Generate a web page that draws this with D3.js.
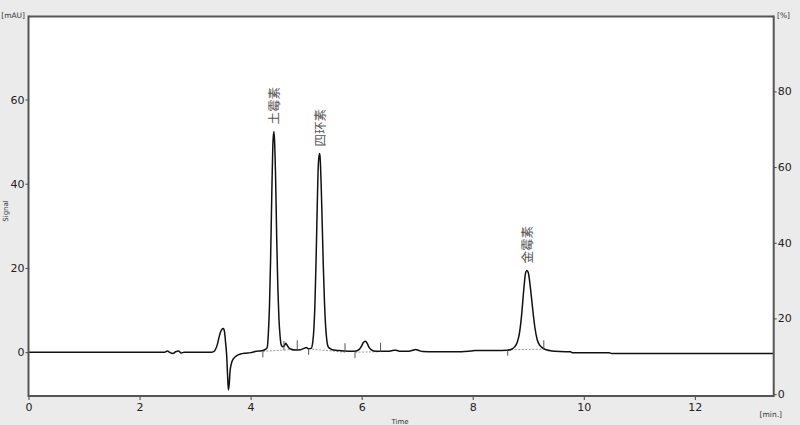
<!DOCTYPE html>
<html>
<head>
<meta charset="utf-8">
<script src="https://cdn.jsdelivr.net/npm/d3@7/dist/d3.min.js"></script>
<style>
  html, body { margin: 0; padding: 0; background: #ebebeb; }
  svg { display: block; }
</style>
</head>
<body>
<script>
// ---------------- data ----------------
const traceTime = [
  0.00, 2.45, 2.50, 2.55, 2.60, 2.65, 2.70, 2.75, 2.80,
  3.30, 3.35, 3.40, 3.44, 3.48, 3.51, 3.53, 3.55, 3.57, 3.585, 3.60, 3.615, 3.63, 3.66, 3.70, 3.75, 3.82, 3.90, 4.00, 4.10, 4.20,
  4.28, 4.30, 4.32, 4.34, 4.36, 4.38, 4.40, 4.418, 4.43, 4.45, 4.47, 4.49, 4.51, 4.53, 4.55, 4.58, 4.61, 4.63, 4.655, 4.69, 4.73,
  4.80, 4.90, 4.96, 5.00, 5.04, 5.09, 5.12, 5.14, 5.16, 5.18, 5.20, 5.22, 5.24, 5.25, 5.27, 5.29, 5.31, 5.33, 5.35, 5.37, 5.40, 5.44,
  5.50, 5.60, 5.70, 5.80, 5.90, 5.95, 6.00, 6.03, 6.065, 6.10, 6.13, 6.17, 6.22, 6.30,
  6.50, 6.58, 6.62, 6.68, 6.85, 6.92, 6.97, 7.03, 7.10, 7.30, 7.80, 7.92, 7.98, 8.05, 8.40, 8.62,
  8.70, 8.75, 8.80, 8.84, 8.88, 8.92, 8.95, 8.975, 9.00, 9.03, 9.06, 9.09, 9.12, 9.16, 9.21, 9.27, 9.34, 9.42, 9.57,
  9.76, 9.80, 10.46, 10.50, 13.42
];
const traceSignal = [
  0, 0, 0.3, -0.1, -0.3, 0.1, 0.3, -0.2, 0,
  0, 0.3, 1.8, 4.0, 5.4, 5.6, 4.8, 2.2, -1.0, -5.5, -9.0, -7.5, -4.5, -2.4, -1.4, -0.8, -0.45, -0.25, -0.1, 0.2, 0.35,
  0.8, 1.2, 4.6, 11.1, 22.2, 36.6, 49, 52.4, 50.5, 41.4, 27, 15.5, 8, 3.9, 1.8, 1.3, 1.6, 2.1, 1.7, 1.0, 0.7,
  0.5, 0.6, 0.9, 1.1, 0.8, 0.9, 2.5, 5.7, 12.2, 22.5, 34.8, 44.7, 47.2, 46.5, 40, 30.2, 20.1, 11.9, 6.3, 3.1, 1.2, 0.8,
  0.5, 0.4, 0.3, 0.25, 0.3, 0.6, 1.5, 2.3, 2.6, 2.1, 1.2, 0.6, 0.3, 0.25,
  0.25, 0.45, 0.45, 0.25, 0.25, 0.45, 0.65, 0.4, 0.15, 0.1, 0.1, 0.2, 0.3, 0.4, 0.4, 0.45,
  0.7, 1.2, 2.3, 4.4, 8.8, 15.0, 18.7, 19.4, 18.9, 16.3, 12.7, 9.0, 5.8, 3.0, 1.6, 0.9, 0.5, 0.3, 0.15,
  0.1, -0.15, -0.15, -0.3, -0.3
];

// integration baselines (dotted) : start/end times and levels
const baseStartTime  = [4.22, 4.60, 5.045, 5.88, 8.63];
const baseStartLevel = [0.2, 0.5, 0.8, 0.0, 0.6];
const baseEndTime    = [4.60, 4.84, 5.70, 6.34, 9.28];
const baseEndLevel   = [0.5, 0.7, 0.0, 0.1, 0.7];

// integration markers
const markerTime  = [4.22, 4.60, 4.84, 5.045, 5.70, 5.88, 6.34, 8.63, 9.28];
const markerLevel = [0.2, 0.5, 0.7, 0.8, 0.0, 0.0, 0.1, 0.6, 0.7];
const markerKind  = ["start", "end", "end", "start", "end", "start", "end", "start", "end"];

// peak labels
const peakNames  = ["土霉素", "四环素", "金霉素"];
const peakTimes  = [4.418, 5.241, 8.975];
const peakValues = [52.4, 47.2, 19.4];

// ticks
const xTicks = [0, 2, 4, 6, 8, 10, 12];
const yLeftTicks = [0, 20, 40, 60];
const yRightTicks = [0, 20, 40, 60, 80];

// ---------------- layout ----------------
const W = 800, H = 425;
const L = 28.5, R = 773.7, T = 16.5, B = 396;

const x = d3.scaleLinear().domain([0, 13.42]).range([L, R]);
const y = d3.scaleLinear().domain([-10.4, 79.7]).range([B, T]);
const yR = d3.scaleLinear().domain([-0.5, 99.8]).range([B, T]);

const svg = d3.select("body").append("svg")
  .attr("width", W).attr("height", H);

svg.append("rect").attr("x", 0).attr("y", 0).attr("width", W).attr("height", H).attr("fill", "#ebebeb");
svg.append("rect").attr("x", L).attr("y", T).attr("width", R - L).attr("height", B - T).attr("fill", "#ffffff");

svg.append("clipPath").attr("id", "clip")
  .append("rect").attr("x", L).attr("y", T).attr("width", R - L).attr("height", B - T);

const plot = svg.append("g").attr("clip-path", "url(#clip)");

// dotted baselines
const segs = baseStartTime.map((t, i) => ({t0: t, v0: baseStartLevel[i], t1: baseEndTime[i], v1: baseEndLevel[i]}));
plot.selectAll("line.base").data(segs).enter().append("line")
  .attr("class", "base")
  .attr("x1", d => x(d.t0)).attr("y1", d => y(d.v0))
  .attr("x2", d => x(d.t1)).attr("y2", d => y(d.v1))
  .attr("stroke", "#9a9a9a").attr("stroke-width", 1)
  .attr("stroke-dasharray", "2,1.5");

// trace
const pts = traceTime.map((t, i) => [t, traceSignal[i]]);
const line = d3.line().x(d => x(d[0])).y(d => y(d[1])).curve(d3.curveMonotoneX);
plot.append("path").datum(pts)
  .attr("d", line)
  .attr("fill", "none")
  .attr("stroke", "#111")
  .attr("stroke-width", 1.5)
  .attr("stroke-linejoin", "round");

// markers
const marks = markerTime.map((t, i) => ({t, v: markerLevel[i], k: markerKind[i]}));
plot.selectAll("line.mark").data(marks).enter().append("line")
  .attr("class", "mark")
  .attr("x1", d => x(d.t)).attr("x2", d => x(d.t))
  .attr("y1", d => y(d.v))
  .attr("y2", d => d.k === "start" ? y(d.v) + 6 : y(d.v) - 9)
  .attr("stroke", "#555").attr("stroke-width", 1);

// peak labels
const labels = peakNames.map((n, i) => ({n, t: peakTimes[i], v: peakValues[i]}));
svg.selectAll("text.peak").data(labels).enter().append("text")
  .attr("class", "peak")
  .attr("transform", d => `translate(${x(d.t) - 0.5},${y(d.v) - 7}) rotate(-90)`)
  .attr("text-anchor", "start")
  .attr("dominant-baseline", "central")
  .attr("font-family", "'Noto Sans CJK SC', sans-serif")
  .attr("font-size", 12.5)
  .attr("fill", "#555")
  .text(d => d.n);

// axes
const axFont = "'DejaVu Sans', Verdana, sans-serif";
function styleAxis(g) {
  g.select(".domain").remove();
  g.selectAll(".tick line").attr("stroke", "#444").attr("stroke-width", 1);
  g.selectAll(".tick text").attr("font-family", axFont).attr("font-size", 11).attr("fill", "#222");
}
svg.append("g").attr("transform", `translate(${L},0)`)
  .call(d3.axisLeft(y).tickValues(yLeftTicks).tickSize(3).tickPadding(1).tickFormat(d3.format("d")))
  .call(styleAxis);
svg.append("g").attr("transform", `translate(${R},0)`)
  .call(d3.axisRight(yR).tickValues(yRightTicks).tickSize(3).tickPadding(1).tickFormat(d3.format("d")))
  .call(styleAxis);
svg.append("g").attr("transform", `translate(0,${B})`)
  .call(d3.axisBottom(x).tickValues(xTicks).tickSize(4).tickPadding(3).tickFormat(d3.format("d")))
  .call(styleAxis);

// frame
const frame = svg.append("g").attr("stroke", "#555").attr("stroke-width", 2).attr("fill", "none");
frame.append("line").attr("x1", L).attr("x2", L).attr("y1", T - 1).attr("y2", B + 1);
frame.append("line").attr("x1", R).attr("x2", R).attr("y1", T - 1).attr("y2", B + 1);
frame.append("line").attr("x1", L).attr("x2", R).attr("y1", T).attr("y2", T);
frame.append("line").attr("x1", L).attr("x2", R).attr("y1", B).attr("y2", B);

// unit labels
const small = (txt, xx, yy, anchor, size) => svg.append("text")
  .attr("x", xx).attr("y", yy).attr("text-anchor", anchor)
  .attr("font-family", axFont).attr("font-size", size).attr("fill", "#333").text(txt);
small("[mAU]", 25, 18, "end", 7.5);
small("[%]", 777, 18, "start", 7.5);
small("[min.]", 782, 417, "end", 7.5);
small("Time", 400, 424, "middle", 7);
svg.append("text")
  .attr("transform", "translate(8,211) rotate(-90)")
  .attr("text-anchor", "middle")
  .attr("font-family", axFont).attr("font-size", 7).attr("fill", "#333")
  .text("Signal");
</script>
</body>
</html>
